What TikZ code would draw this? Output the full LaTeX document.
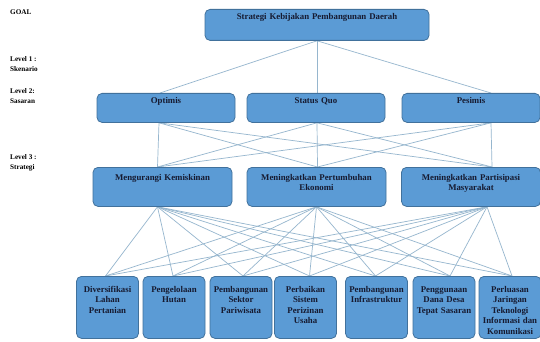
\documentclass[tikz,border=0pt]{standalone}
\usepackage{fontspec}
\setmainfont{Liberation Serif}
\usetikzlibrary{
  positioning,  % relative placement
  backgrounds   % links go on the background layer
}
\definecolor{boxfill}{RGB}{91,155,213}
\definecolor{boxline}{RGB}{65,113,156}
\definecolor{linkcol}{RGB}{150,182,206}
\definecolor{txtcol}{RGB}{22,26,48}
\tikzset{
  font=\bfseries\fontsize{8.8}{10.5}\selectfont,
  my box/.style={
    draw=boxline,
    fill=boxfill,
    line width=0.8pt,
    rounded corners=5pt,
    align=center,
    text=txtcol,
    inner xsep=2pt,
    inner ysep=3pt,
    anchor=north
  },
  goal box/.style={my box,text width=220pt,text height=7pt,text depth=18pt},
  scen box/.style={my box,text width=134pt,text height=7pt,text depth=16pt},
  strat box/.style={my box,text width=135pt,text height=10pt,text depth=23pt},
  prog box/.style={my box,text width=58pt,text height=13pt,text depth=43pt},
  level/.style={
    font=\bfseries\fontsize{7.2}{10}\selectfont,
    align=left,
    inner sep=0pt,
    anchor=north west
  },
  link/.style={draw=linkcol,line width=0.7pt}
}

\begin{document}
\begin{tikzpicture}[x=1pt,y=-1pt]
\useasboundingbox (0,0) rectangle (540,342);
% left column
\node[level] (lvlgoal) at (10,10) {GOAL};
\node[level] (lvlone) at (10,56) {Level 1 :\\Skenario};
\node[level] (lvltwo) at (10,88) {Level 2:\\Sasaran};
\node[level] (lvlthree) at (10,154) {Level 3 :\\Strategi};
% goal
\node[goal box] (goal) at (317,9) {Strategi Kebijakan Pembangunan Daerah};
% level 2
\node[scen box] (optimis) at (166,93) {Optimis};
\node[scen box] (statusquo) at (316,93) {Status Quo};
\node[scen box] (pesimis) at (471,93) {Pesimis};
% level 3
\node[strat box] (kemiskinan) at (162.5,167) {Mengurangi Kemiskinan};
\node[strat box] (pertumbuhan) at (316.5,167) {Meningkatkan Pertumbuhan\\Ekonomi};
\node[strat box] (partisipasi) at (471,167) {Meningkatkan Partisipasi\\Masyarakat};
% programs
\node[prog box] (diversifikasi) at (107.5,276) {Diversifikasi\\Lahan\\Pertanian};
\node[prog box] (hutan) at (174,276) {Pengelolaan\\Hutan};
\node[prog box] (pariwisata) at (241,276) {Pembangunan\\Sektor\\Pariwisata};
\node[prog box] (perizinan) at (305.5,276) {Perbaikan\\Sistem\\Perizinan\\Usaha};
\node[prog box] (infrastruktur) at (376.5,276) {Pembangunan\\Infrastruktur};
\node[prog box] (danadesa) at (444,276) {Penggunaan\\Dana Desa\\Tepat Sasaran};
\node[prog box] (teknologi) at (510,276) {Perluasan\\Jaringan\\Teknologi\\Informasi dan\\Komunikasi};

\begin{scope}[on background layer]
\fill[white] (0,0) rectangle (540,342);
\foreach \a/\sa in {optimis/-6,statusquo/1,pesimis/20}
  \path[link] (goal.south) edge ([xshift=\sa pt]\a.north);
\foreach \a/\sa in {optimis/-7,statusquo/1,pesimis/20}
  \foreach \b/\sb in {kemiskinan/-5,pertumbuhan/1,partisipasi/21}
    \path[link] ([xshift=\sa pt]\a.south) edge ([xshift=\sb pt]\b.north);
\foreach \b/\sb in {kemiskinan/-5,pertumbuhan/0,partisipasi/16}
  \foreach \c/\sc in {diversifikasi/-2,hutan/-1,pariwisata/2,perizinan/4,
                      infrastruktur/-1,danadesa/6,teknologi/2}
    \path[link] ([xshift=\sb pt]\b.south) edge ([xshift=\sc pt]\c.north);
\end{scope}
\end{tikzpicture}
\end{document}
